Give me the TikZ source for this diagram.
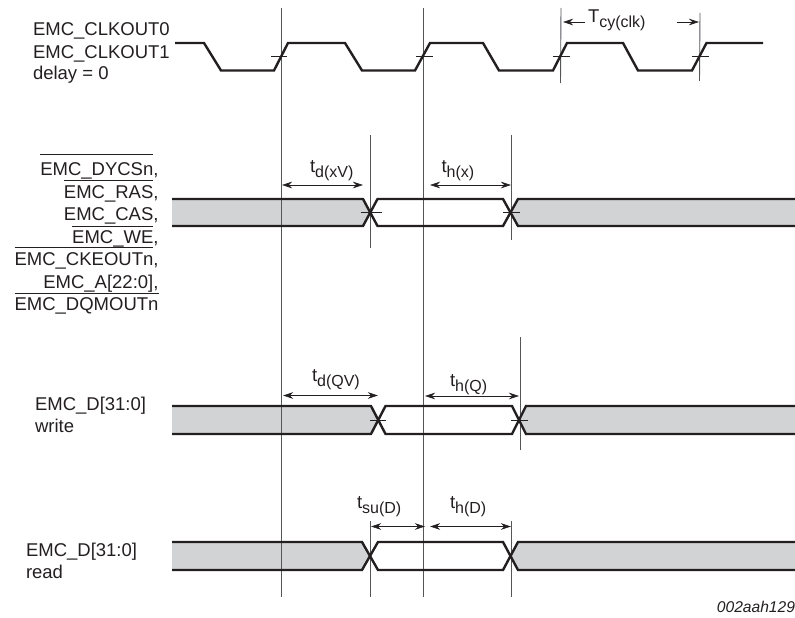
\documentclass[tikz,border=0pt]{standalone}
\usepackage{fontspec}
\setmainfont{Liberation Sans}
\usetikzlibrary{arrows.meta}
\definecolor{ink}{HTML}{231F20}
\definecolor{busgrey}{HTML}{D1D3D4}
\definecolor{rulegrey}{HTML}{55565A}
\newcommand\ovl[2]{\setbox0\hbox{#2}\rlap{\rule[#1]{\wd0}{0.8pt}}\box0}
\newcommand\tsub[2]{#1\raisebox{-5pt}{\fontsize{16}{16}\selectfont #2}}
\newcommand\busrow[6]{%
  \pgfmathsetmacro\ym{(#1+#2)/2}%
  \pgfmathsetmacro\xl{(#3+#4)/2}%
  \pgfmathsetmacro\xr{(#5+#6)/2}%
  \fill[busgrey] (172,#1) -- (#3,#1) -- (\xl,\ym) -- (#3,#2) -- (172,#2) -- cycle;
  \fill[busgrey] (795,#1) -- (#6,#1) -- (\xr,\ym) -- (#6,#2) -- (795,#2) -- cycle;
}
\newcommand\busline[6]{%
  \draw[signal] (172,#1) -- (#3,#1) -- (#4,#2) -- (#5,#2) -- (#6,#1) -- (795,#1);
  \draw[signal] (172,#2) -- (#3,#2) -- (#4,#1) -- (#5,#1) -- (#6,#2) -- (795,#2);
}
\tikzset{
  signal/.style={draw=ink,line width=2.4pt},
  guide/.style={draw=rulegrey,line width=0.9pt},
  tick/.style={draw=ink,line width=0.6pt},
  dim/.style={draw=ink,line width=0.6pt,{Stealth[length=10pt,width=6.5pt]}-{Stealth[length=10pt,width=6.5pt]}},
  dimr/.style={draw=ink,line width=0.6pt,-{Stealth[length=10pt,width=6.5pt]}},
  lbl/.style={inner sep=0pt,outer sep=0pt,font=\fontsize{18.5}{22}\selectfont,text=ink},
}
\begin{document}
\begin{tikzpicture}[x=1pt,y=-1pt]
\useasboundingbox (0,0) rectangle (795,618);
% bus fills
\busrow{199}{226}{363}{377.5}{503}{518}
\busrow{406}{434}{371}{385.5}{512}{526}
\busrow{542}{570}{362}{378}{503}{518}
% long guides
\draw[guide] (281,8) -- (281,597);
\draw[guide] (423.5,8) -- (423.5,597);
\draw[guide] (561,8) -- (560.5,83);
\draw[guide] (700,13) -- (699.5,81);
\draw[guide] (370,135) -- (370,248);
\draw[guide] (511.7,135) -- (511.7,240);
\draw[guide] (520.5,337) -- (520.5,450);
\draw[guide] (370,521) -- (370,597);
\draw[guide] (511.5,521) -- (511.5,597);
% bus outlines
\busline{199}{226}{363}{377.5}{503}{518}
\busline{406}{434}{371}{385.5}{512}{526}
\busline{542}{570}{362}{378}{503}{518}
% clock
\draw[signal] (175,43) -- (204,43) -- (221,70.5) -- (274,70.5) -- (288,43) -- (345,43) -- (362,70.5)
  -- (415,70.5) -- (430,43) -- (483,43) -- (499,70.5) -- (553,70.5) -- (567,43) -- (623,43)
  -- (638,70.5) -- (692,70.5) -- (706.5,43) -- (763,43);
% threshold ticks
\draw[tick] (271,56.5) -- (287,56.5);
\draw[tick] (416,56.5) -- (433,56.5);
\draw[tick] (553,56.5) -- (570,56.5);
\draw[tick] (692,56.5) -- (709,56.5);
\draw[tick] (361,212.5) -- (382,212.5);
\draw[tick] (503,212.5) -- (520,212.5);
\draw[tick] (370,420) -- (386,420);
\draw[tick] (511,420) -- (528,420);
% dimension arrows
\coordinate (a1) at (282,185); \coordinate (a2) at (363,185);
\coordinate (b1) at (430,185); \coordinate (b2) at (511,185);
\coordinate (c1) at (283,395.5); \coordinate (c2) at (378,395.5);
\coordinate (d1) at (425,396); \coordinate (d2) at (519,396);
\coordinate (e1) at (371,526.5); \coordinate (e2) at (425,526.5);
\coordinate (f1) at (430,526.5); \coordinate (f2) at (511,526.5);
\coordinate (g1) at (585,22); \coordinate (g2) at (563,22);
\coordinate (h1) at (677,22); \coordinate (h2) at (699,22);
\draw[dim] (a1) -- (a2);
\draw[dim] (b1) -- (b2);
\draw[dim] (c1) -- (c2);
\draw[dim] (d1) -- (d2);
\draw[dim] (e1) -- (e2);
\draw[dim] (f1) -- (f2);
\draw[dimr] (g1) -- (g2);
\draw[dimr] (h1) -- (h2);
% signal names
\node[lbl,anchor=base west] (clk0) at (33,36) {EMC\_CLKOUT0};
\node[lbl,anchor=base west] (clk1) at (33,58.5) {EMC\_CLKOUT1};
\node[lbl,anchor=base west] (clk2) at (33,80) {delay = 0};
\node[lbl,anchor=base east] (r1) at (158.5,175) {\ovl{20pt}{EMC\_DYCSn},};
\node[lbl,anchor=base east] (r2) at (158.5,198.5) {\ovl{17.5pt}{EMC\_RAS},};
\node[lbl,anchor=base east] (r3) at (158.5,220.5) {EMC\_CAS,};
\node[lbl,anchor=base east] (r4) at (158.5,243) {\ovl{16.5pt}{EMC\_WE},};
\node[lbl,anchor=base east] (r5) at (158.5,265) {\ovl{17pt}{EMC\_CKEOUTn},};
\node[lbl,anchor=base east] (r6) at (158.5,288) {EMC\_A[22:0],};
\node[lbl,anchor=base east] (r7) at (158.5,310) {\ovl{16pt}{EMC\_DQMOUTn}};
\node[lbl,anchor=base west] (w1) at (35,410) {EMC\_D[31:0]};
\node[lbl,anchor=base west] (w2) at (35,432) {write};
\node[lbl,anchor=base west] (rd1) at (26,556) {EMC\_D[31:0]};
\node[lbl,anchor=base west] (rd2) at (26,578) {read};
% timing labels
\node[lbl,anchor=base west] (tdx) at (310,172.5) {\tsub{t}{d(xV)}};
\node[lbl,anchor=base west] (thx) at (441.5,172) {\tsub{t}{h(x)}};
\node[lbl,anchor=base west] (tdq) at (312,381.5) {\tsub{t}{d(QV)}};
\node[lbl,anchor=base west] (thq) at (450,386.5) {\tsub{t}{h(Q)}};
\node[lbl,anchor=base west] (tsu) at (357,508) {\tsub{t}{su(D)}};
\node[lbl,anchor=base west] (thd) at (450,508) {\tsub{t}{h(D)}};
\node[lbl,anchor=base west] (tcy) at (588,22.5) {\tsub{T}{cy(clk)}};
\node[lbl,anchor=base east,font=\fontsize{15.6}{18}\selectfont\itshape] (ref) at (795,612.5) {002aah129};
\end{tikzpicture}
\end{document}
